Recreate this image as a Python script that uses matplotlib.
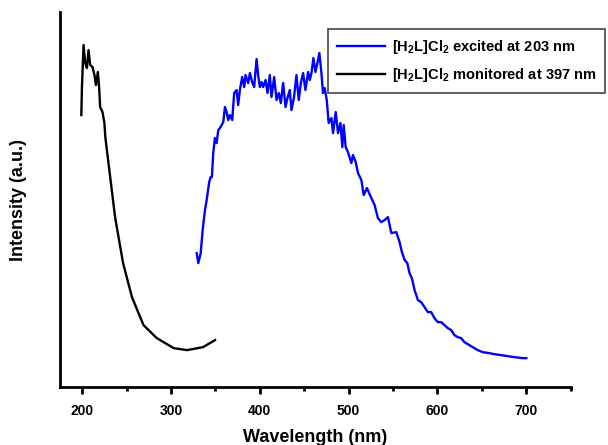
import matplotlib
matplotlib.use('Agg')
from matplotlib import pyplot as plt

# 激发光谱 (黑色, monitored at 397 nm)
ex_wl = [199, 199.7, 201.5, 203.4, 205.3, 207.1, 209, 211.6, 213.8, 215.4, 217.6, 219.1,
         220.2, 222.8, 225, 226, 231.5, 237, 246, 256, 269, 284, 303, 318, 336, 349.5]
ex_I = [272, 300, 342, 324, 319, 337, 322, 320, 312, 302, 315, 299,
        280, 275, 264, 250, 210, 170, 124, 90, 62, 49, 39, 37, 40, 47]

# 发射光谱 (蓝色, excited at 203 nm)
em_wl = [328.9, 330.7, 333.4, 335.6, 338.2, 340.1, 343, 344.6, 346, 347.5, 349.4, 351.3,
         353.2, 355.8, 358.8, 360.7,
         362.6, 364.4, 366.3, 368.9, 371.1, 373.8, 375.6, 377.5, 380.1, 382.4, 383.9,
         386.9, 388.8, 391.3, 393.6, 396.3, 398.1, 400, 401.9, 403.7, 406.4, 408.6,
         411.2, 413.1, 416.1, 418.8, 421.3, 423.6, 426.2, 428.9, 431.1, 433.7, 435.6,
         438.5, 441.2, 443.8, 446.1, 448.7, 451.3, 454.3, 456.2, 458.1, 460.3, 462.6,
         464.8, 467, 469.3, 471.1, 473, 475.3, 477.5, 480.6, 482.4, 485.4, 488, 490.7,
         492.9, 494.4, 496.6, 499.2, 503, 504.8, 507.9, 510.5, 514.3, 516.9, 520.6,
         525.5, 529.2, 532.9, 536.7, 540.4, 544.2, 548, 553.6, 557.3, 559.9, 563, 566,
         568.5, 571.1, 574.2, 578, 581.6, 585.4, 589.1, 592.9, 596.6, 600.3, 604.2,
         607.9, 611.6, 615.4, 619.1, 622.8, 626.6, 630.3, 634, 639.7, 645.3, 650.9,
         658.4, 664, 671.6, 679, 686.5, 695.8, 700]
em_I = [134, 124, 134, 157, 177, 187, 205, 210, 210, 234, 249, 244,
        257, 260, 265, 280,
        275, 267, 272, 267, 294, 297, 282, 297, 310, 300, 312,
        304, 314, 305, 300, 328, 312, 300, 305, 300, 307, 294,
        312, 290, 310, 287, 294, 284, 304, 280, 289, 297, 277,
        290, 312, 287, 304, 314, 297, 315, 307, 314, 329, 315,
        324, 334, 314, 294, 299, 287, 264, 269, 254, 275, 254, 264,
        240, 262, 240, 235, 224, 232, 225, 214, 207, 192, 199,
        189, 182, 169, 165, 167, 170, 154, 155, 145, 135, 127, 124,
        114, 109, 97, 87, 85, 80, 75, 75, 69, 65, 65,
        62, 59, 57, 52, 50, 49, 45, 43, 40, 37, 35,
        34, 33, 32, 31, 30, 29, 29]

plt.rcParams['font.family'] = ['Liberation Sans', 'DejaVu Sans']
plt.rcParams['font.weight'] = 'bold'
plt.rcParams['mathtext.fontset'] = 'custom'
plt.rcParams['mathtext.rm'] = 'Liberation Sans:bold'
plt.rcParams['mathtext.bf'] = 'Liberation Sans:bold'
plt.rcParams['mathtext.default'] = 'bf'

fig = plt.figure(figsize=(6.08, 4.45), dpi=100)
ax = fig.add_axes([0.0987, 0.130, 0.840, 0.843])

ax.plot(em_wl, em_I, color='#0000ff', lw=1.7, label='[H$_2$L]Cl$_2$ excited at 203 nm')
ax.plot(ex_wl, ex_I, color='black', lw=1.7, label='[H$_2$L]Cl$_2$ monitored at 397 nm')

ax.set_xlim(175, 750)
ax.set_ylim(0, 375)
ax.spines['top'].set_visible(False)
ax.spines['right'].set_visible(False)
ax.spines['left'].set_linewidth(2)
ax.spines['bottom'].set_linewidth(2)
ax.set_yticks([])
ax.set_xticks(range(200, 701, 100))
ax.set_xticks(range(250, 751, 100), minor=True)
ax.tick_params(axis='x', which='major', direction='out', length=5, width=2, labelsize=10, pad=7)
ax.tick_params(axis='x', which='minor', direction='out', length=3, width=2)
for t in ax.get_xticklabels():
    t.set_fontweight('bold')

ax.set_xlabel('Wavelength (nm)', fontsize=13, fontweight='bold', labelpad=8)
ax.set_ylabel('Intensity (a.u.)', fontsize=13, fontweight='bold', labelpad=24)

leg = fig.legend(loc='upper left', bbox_to_anchor=(328 / 608, 1 - 29 / 445), fontsize=10.5,
                 frameon=True, fancybox=False, framealpha=1, edgecolor='#444444',
                 handlelength=3.3, handletextpad=0.5, borderpad=0.6, labelspacing=0.7,
                 borderaxespad=0)
leg.get_frame().set_linewidth(1.2)
for t in leg.get_texts():
    t.set_fontweight('bold')

plt.savefig('out.png', dpi=100)
